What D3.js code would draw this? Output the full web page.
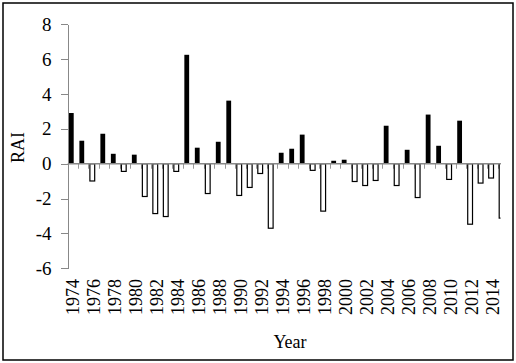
<!DOCTYPE html>
<html>
<head>
<meta charset="utf-8">
<script src="https://cdn.jsdelivr.net/npm/d3@7"></script>
<style>
    body { margin: 0; background: #fff; }
    .chart text { font-family: "Liberation Serif", "Times New Roman", serif; font-size: 18px; fill: #000; }
    .axis line, .axis path { stroke: #888; shape-rendering: crispEdges; }
</style>
</head>
<body>
<svg class="chart"></svg>
<script>
    var years = d3.range(1974, 2016);
    var rai = [2.91, 1.32, -0.99, 1.72, 0.57, -0.44, 0.52, -1.88, -2.86, -3.03,
               -0.44, 6.25, 0.92, -1.71, 1.26, 3.62, -1.82, -1.36, -0.56, -3.70,
               0.63, 0.86, 1.67, -0.38, -2.72, 0.17, 0.23, -1.02, -1.25, -0.96,
               2.18, -1.25, 0.80, -1.94, 2.82, 1.03, -0.90, 2.47, -3.47, -1.11,
               -0.82, -3.12];
    var yTicks = [-6, -4, -2, 0, 2, 4, 6, 8];
    var xLabels = years.filter(function (d) { return d % 2 === 0; });

    var width = 516, height = 363;
    var left = 67.5, clipRight = 500.5;
    var step = 10.495;

    var chart = d3.select(".chart").attr("width", width).attr("height", height);

    // frame round the whole picture
    chart.append("rect")
        .attr("x", 3).attr("y", 3).attr("width", 510).attr("height", 357)
        .attr("fill", "none").attr("stroke", "#000").attr("stroke-width", 1.5);

    var x = d3.scaleBand()
        .domain(years)
        .range([left, left + step * years.length])
        .paddingInner(0).paddingOuter(0);

    var y = d3.scaleLinear().domain([-6, 8]).range([268.3, 24.3]);

    chart.append("clipPath").attr("id", "plot")
        .append("rect")
        .attr("x", left).attr("y", 0)
        .attr("width", clipRight - left).attr("height", height);

    var plot = chart.append("g").attr("clip-path", "url(#plot)");

    // x ticks between categories
    var bounds = years.map(function (d) { return x(d) + x.bandwidth(); });
    plot.selectAll(".xtick").data(bounds).enter().append("line")
        .attr("x1", function (d) { return Math.round(d) + 0.5; })
        .attr("x2", function (d) { return Math.round(d) + 0.5; })
        .attr("y1", y(0)).attr("y2", y(0) + 5)
        .attr("stroke", "#999").attr("stroke-width", 1);

    // bars
    plot.selectAll(".bar").data(years).enter().append("rect")
        .attr("x", function (d) { return x(d) + 1.4; })
        .attr("width", 4.8)
        .attr("y", function (d, i) { return y(Math.max(0, rai[i])); })
        .attr("height", function (d, i) { return Math.abs(y(rai[i]) - y(0)); })
        .attr("fill", function (d, i) { return rai[i] >= 0 ? "#000" : "#fff"; })
        .attr("stroke", function (d, i) { return rai[i] >= 0 ? "none" : "#000"; })
        .attr("stroke-width", 1.2);

    // x axis line
    plot.append("line")
        .attr("x1", left).attr("x2", clipRight)
        .attr("y1", y(0)).attr("y2", y(0))
        .attr("stroke", "#888").attr("stroke-width", 1.5);

    // y axis
    var axisY = d3.axisLeft(y)
        .tickValues(yTicks)
        .tickSize(7)
        .tickPadding(9)
        .tickSizeOuter(0)
        .tickFormat(function (d) { return d < 0 ? "-" + Math.abs(d) : d; });

    var gy = chart.append("g")
        .attr("class", "axis")
        .attr("transform", "translate(" + left + ",0)")
        .call(axisY);
    gy.attr("font-family", null).attr("font-size", null);
    gy.selectAll("text")
        .style("font-family", "'Liberation Serif', serif")
        .style("font-size", "19px")
        .attr("fill", "#000");

    // year labels
    chart.selectAll(".xlab").data(xLabels).enter().append("text")
        .attr("transform", function (d) {
            return "translate(" + (x(d) + x.bandwidth() / 2 + 6) + ",279) rotate(-90)";
        })
        .attr("text-anchor", "end")
        .text(function (d) { return d; });

    // axis titles
    chart.append("text")
        .attr("transform", "translate(23.5,147.5) rotate(-90)")
        .attr("text-anchor", "middle")
        .text("RAI");

    chart.append("text")
        .attr("x", 290).attr("y", 347.5)
        .attr("text-anchor", "middle")
        .text("Year");
</script>
</body>
</html>
